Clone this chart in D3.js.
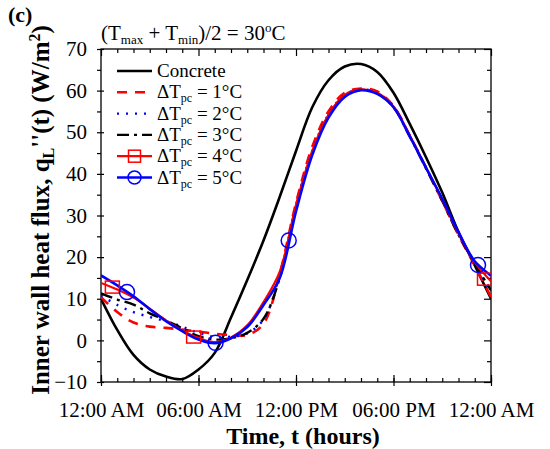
<!DOCTYPE html>
<html><head><meta charset="utf-8">
<script src="https://cdn.jsdelivr.net/npm/d3@7"></script>
<style>body{margin:0;background:#fff}text{font-family:"Liberation Serif","Times New Roman",serif}</style>
</head><body>
<svg id="c" width="550" height="449"></svg>
<script>
const hours = [0,1,2,3,4,5,6,7,8,9,10,11,12,13,14,15,16,17,18,19,20,21,22,23,24];
const concrete = [10,2.5,-3.5,-7,-8.7,-9.3,-7,-3,5.5,14.5,24,34.5,45.5,56,62.5,65.8,66.4,64.5,59.5,52,44,35.5,26,18,10];
const pc1 = [10.4,6.8,4.3,3.3,3.0,2.6,2.1,1.6,1.3,1.3,4,16,33,46.5,55,59.5,60.5,59.8,56.3,49.2,41.5,33.5,25.3,18,10.4];
const pc2 = [10.8,8.5,6.8,5.6,4.6,3.3,1.8,0.8,0.9,1.7,5,15.5,32.5,45.5,54.3,59,60.3,59.5,56.2,49.2,41.5,33.6,25.5,18.5,11.5];
const pc3 = [11.3,9.8,8.6,6.5,4.8,2.9,1.0,0.2,0.5,1.8,5.2,15,32,45,54,58.8,60.2,59.3,56,49,41.3,33.5,25.4,18.5,12];
const pc4 = [13.8,12.2,10.3,7.6,4.8,2.4,0.6,-0.4,0.7,3.6,9.2,16.5,32.5,45.5,54.2,59,60.3,59.5,56.2,49.2,41.5,33.8,25.7,18.8,14.2];
const pc5 = [15.6,13.2,10.6,7.5,4.6,2.2,0.2,-0.7,0.5,3.2,8.5,15,31,44.5,53.5,58.5,60.1,59.2,56,49,41.5,34,26,19,15.5];
const pc4Markers = [[0.7,12.8],[5.7,0.8],[23.6,14.7]];
const pc5Markers = [[1.6,11.6],[7.05,-0.6],[11.55,24],[23.2,18.1]];
const xTickHours = [0,6,12,18,24];
const xTickLabels = ["12:00 AM","06:00 AM","12:00 PM","06:00 PM","12:00 AM"];
const yTicks = [-10,0,10,20,30,40,50,60,70];
const legendLabels = ["Concrete","1","2","3","4","5"];

const svg = d3.select("#c");
const L=101, R=491, T=49, B=382;
const x = d3.scaleLinear().domain([0,24]).range([L,R]);
const y = d3.scaleLinear().domain([-10,70]).range([B,T]);

svg.append("rect").attr("x",L).attr("y",T).attr("width",R-L).attr("height",B-T)
  .attr("fill","none").attr("stroke","#000").attr("stroke-width",1.3);

const minorX = d3.range(0,25,1), minorY = d3.range(-10,71,5);
const gB = svg.append("g").attr("transform",`translate(0,${B})`);
gB.call(d3.axisBottom(x).tickValues(minorX).tickSize(-4).tickFormat(""));
gB.call(g=>g.selectAll(".domain").remove());
const gB2 = svg.append("g").attr("transform",`translate(0,${B})`);
gB2.call(d3.axisBottom(x).tickValues(xTickHours).tickSizeInner(4).tickSizeOuter(0).tickPadding(16).tickFormat((d,i)=>xTickLabels[i]));
gB2.selectAll(".tick line").attr("y1",-7);
gB2.select(".domain").remove();
gB2.selectAll("text").attr("font-size",21).attr("fill","#000");

const gT = svg.append("g").attr("transform",`translate(0,${T})`);
gT.call(d3.axisTop(x).tickValues(minorX).tickSize(-4).tickFormat(""));
gT.selectAll(".tick").filter(d=>d%6===0).select("line").attr("y2",7);
gT.select(".domain").remove();

const gL = svg.append("g").attr("transform",`translate(${L},0)`);
gL.call(d3.axisLeft(y).tickValues(minorY).tickSize(4).tickFormat(""));
gL.select(".domain").remove();
const gL2 = svg.append("g").attr("transform",`translate(${L},0)`);
gL2.call(d3.axisLeft(y).tickValues(yTicks).tickSizeInner(6).tickSizeOuter(0).tickPadding(8));
gL2.selectAll(".tick line").attr("x2",3);
gL2.select(".domain").remove();
gL2.selectAll("text").attr("font-size",21).attr("fill","#000");

const gR = svg.append("g").attr("transform",`translate(${R},0)`);
gR.call(d3.axisRight(y).tickValues(minorY).tickSize(-4).tickFormat(""));
gR.selectAll(".tick").filter(d=>d%10===0).select("line").attr("x2",-7);
gR.select(".domain").remove();
svg.selectAll(".tick line").attr("stroke","#000").attr("stroke-width",1.2);

svg.append("clipPath").attr("id","pc").append("rect").attr("x",L).attr("y",T).attr("width",R-L).attr("height",B-T);
const gLines = svg.append("g").attr("clip-path","url(#pc)");
const line = d3.line().x((d,i)=>x(hours[i])).y(d=>y(d)).curve(d3.curveCatmullRom.alpha(0.5));
const series = [
  {d:concrete, c:"#000", w:2.6, dash:null},
  {d:pc1, c:"#ff0000", w:2.6, dash:"10,8"},
  {d:pc2, c:"#0000ff", w:2.4, dash:"2,7"},
  {d:pc3, c:"#000", w:2.4, dash:"12,5,3,5"},
  {d:pc4, c:"#ff0000", w:2.2, dash:null},
  {d:pc5, c:"#0000ff", w:2.6, dash:null}
];
series.forEach(s=>{
  gLines.append("path").attr("d",line(s.d)).attr("fill","none").attr("stroke",s.c)
    .attr("stroke-width",s.w).attr("stroke-dasharray",s.dash);
});
gLines.selectAll(".sq").data(pc4Markers).join("rect").attr("x",d=>x(d[0])-7).attr("y",d=>y(d[1])-6)
  .attr("width",14).attr("height",12).attr("fill","none").attr("stroke","#ff0000").attr("stroke-width",1.5);
gLines.selectAll(".ci").data(pc5Markers).join("circle").attr("cx",d=>x(d[0])).attr("cy",d=>y(d[1])).attr("r",7.5)
  .attr("fill","none").attr("stroke","#0000ff").attr("stroke-width",1.5);

const lg = svg.append("g");
const lx0=117, lx1=152, ly0=71, ldy=21.3;
series.forEach((s,i)=>{
  const yy = ly0+i*ldy;
  lg.append("line").attr("x1",lx0).attr("x2",lx1).attr("y1",yy).attr("y2",yy)
    .attr("stroke",s.c).attr("stroke-width",s.w).attr("stroke-dasharray",s.dash);
  if(i===4) lg.append("rect").attr("x",(lx0+lx1)/2-6).attr("y",yy-6).attr("width",12).attr("height",12)
    .attr("fill","none").attr("stroke","#ff0000").attr("stroke-width",1.5);
  if(i===5) lg.append("circle").attr("cx",(lx0+lx1)/2).attr("cy",yy).attr("r",6.5)
    .attr("fill","none").attr("stroke","#0000ff").attr("stroke-width",1.5);
  const t = lg.append("text").attr("x",157).attr("y",yy+6).attr("font-size",19).attr("fill","#000");
  if(i===0) t.text(legendLabels[0]);
  else {
    t.append("tspan").text("\u0394T");
    t.append("tspan").attr("font-size",12).attr("dy",4).text("pc");
    t.append("tspan").attr("dy",-4).text(" = "+legendLabels[i]+"\u00B0C");
  }
});

const tt = svg.append("text").attr("x",101).attr("y",40).attr("font-size",21).attr("fill","#000");
tt.append("tspan").text("(T");
tt.append("tspan").attr("font-size",13).attr("dy",4).text("max");
tt.append("tspan").attr("dy",-4).text(" + T");
tt.append("tspan").attr("font-size",13).attr("dy",4).text("min");
tt.append("tspan").attr("dy",-4).text(")/2 = 30");
tt.append("tspan").attr("font-size",13).attr("dy",-8).text("o");
tt.append("tspan").attr("dy",8).text("C");

svg.append("text").attr("x",8).attr("y",22).attr("font-size",22).attr("font-weight","bold").text("(c)");

svg.append("text").attr("x",(L+R)/2+7).attr("y",444).attr("text-anchor","middle")
  .attr("font-size",24).attr("font-weight","bold").text("Time, t (hours)");
const yt = svg.append("text").attr("transform","translate(49,210) rotate(-90)").attr("text-anchor","middle")
  .attr("font-size",25).attr("font-weight","bold");
yt.append("tspan").text("Inner wall heat flux, q");
yt.append("tspan").attr("font-size",16).attr("dy",5).text("L");
yt.append("tspan").attr("dy",-5).text("''(t) (W/m");
yt.append("tspan").attr("font-size",16).attr("dy",-9).text("2");
yt.append("tspan").attr("dy",9).text(")");
</script>
</body></html>
